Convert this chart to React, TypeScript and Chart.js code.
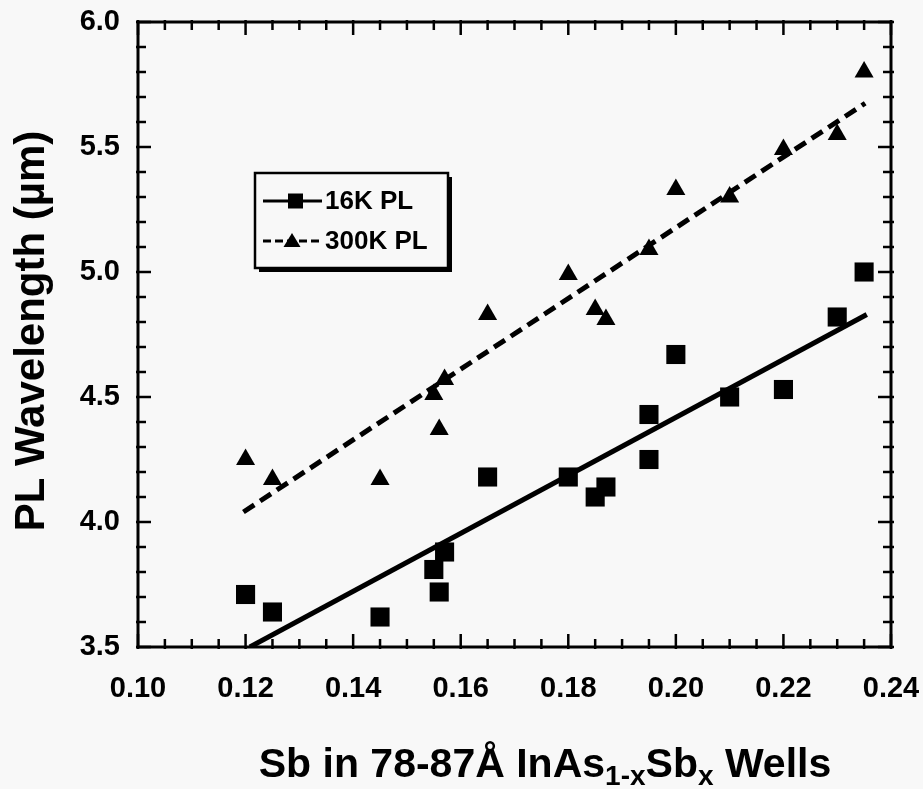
import React, { useEffect, useRef } from 'react';
import { Chart, registerables } from 'chart.js';

Chart.register(...registerables);

// ---- data ----
const seriesNames = ['16K PL', '300K PL'];

const sb16K = [0.120, 0.125, 0.145, 0.155, 0.156, 0.157, 0.165, 0.180, 0.185, 0.187, 0.195, 0.195, 0.200, 0.210, 0.220, 0.230, 0.235];
const pl16K = [3.71, 3.64, 3.62, 3.81, 3.72, 3.88, 4.18, 4.18, 4.10, 4.14, 4.43, 4.25, 4.67, 4.50, 4.53, 4.82, 5.00];

const sb300K = [0.120, 0.125, 0.145, 0.155, 0.156, 0.157, 0.165, 0.180, 0.185, 0.187, 0.195, 0.200, 0.210, 0.220, 0.230, 0.235];
const pl300K = [4.25, 4.17, 4.17, 4.51, 4.37, 4.57, 4.83, 4.99, 4.85, 4.81, 5.09, 5.33, 5.30, 5.49, 5.55, 5.80];

const fitSb16K = [0.1208, 0.2355];
const fitPl16K = [3.50, 4.83];
const fitSb300K = [0.1196, 0.2352];
const fitPl300K = [4.04, 5.675];

const xTickValues = [0.10, 0.12, 0.14, 0.16, 0.18, 0.20, 0.22, 0.24];
const yTickValues = [3.5, 4.0, 4.5, 5.0, 5.5, 6.0];

const xTitleParts = [
  { text: 'Sb in 78-87Å InAs', sub: false },
  { text: '1-x', sub: true },
  { text: 'Sb', sub: false },
  { text: 'x', sub: true },
  { text: ' Wells', sub: false },
];
const yTitle = 'PL Wavelength (µm)';

const FONT = '"Liberation Sans", Arial, Helvetica, sans-serif';
const BG = '#f8f8f8';
const INK = '#000000';

const toPts = (xs: number[], ys: number[]) => xs.map((x, i) => ({ x, y: ys[i] }));

const bgPlugin = {
  id: 'bg',
  beforeDraw(chart: any) {
    const { ctx, width, height } = chart;
    ctx.save();
    ctx.fillStyle = BG;
    ctx.fillRect(0, 0, width, height);
    ctx.restore();
  },
};

const framePlugin = {
  id: 'frame',
  afterDraw(chart: any) {
    const { ctx, chartArea } = chart;
    const { left, right, top, bottom } = chartArea;
    const xs = chart.scales.x;
    const ys = chart.scales.y;
    ctx.save();
    ctx.strokeStyle = INK;
    ctx.lineWidth = 3;
    ctx.strokeRect(left, top, right - left, bottom - top);
    ctx.lineWidth = 2.5;
    const xMin = xTickValues[0];
    const xMax = xTickValues[xTickValues.length - 1];
    const nX = Math.round((xMax - xMin) / 0.005);
    for (let i = 0; i <= nX; i++) {
      const v = xMin + i * 0.005;
      const p = xs.getPixelForValue(v);
      const len = i % 4 === 0 ? 13 : 8;
      ctx.beginPath();
      ctx.moveTo(p, bottom + 2);
      ctx.lineTo(p, bottom - len);
      ctx.moveTo(p, top - 2);
      ctx.lineTo(p, top + len);
      ctx.stroke();
    }
    const yMin = yTickValues[0];
    const yMax = yTickValues[yTickValues.length - 1];
    const nY = Math.round((yMax - yMin) / 0.1);
    for (let i = 0; i <= nY; i++) {
      const v = yMin + i * 0.1;
      const p = ys.getPixelForValue(v);
      const len = i % 5 === 0 ? 13 : 8;
      ctx.beginPath();
      ctx.moveTo(left - 2, p);
      ctx.lineTo(left + len, p);
      ctx.moveTo(right + 3, p);
      ctx.lineTo(right - len, p);
      ctx.stroke();
    }
    ctx.restore();
  },
};

const titlesPlugin = {
  id: 'titles',
  afterDraw(chart: any) {
    const { ctx } = chart;
    ctx.save();
    ctx.fillStyle = INK;
    ctx.textBaseline = 'alphabetic';
    ctx.textAlign = 'left';
    const mainFont = `bold 41px ${FONT}`;
    const subFont = `bold 28px ${FONT}`;
    let total = 0;
    const widths = xTitleParts.map((p) => {
      ctx.font = p.sub ? subFont : mainFont;
      const w = ctx.measureText(p.text).width;
      total += w;
      return w;
    });
    let x = 545 - total / 2;
    const baseline = 777;
    xTitleParts.forEach((p, i) => {
      ctx.font = p.sub ? subFont : mainFont;
      ctx.fillText(p.text, x, p.sub ? baseline + 8 : baseline);
      x += widths[i];
    });
    ctx.translate(44, 331);
    ctx.rotate(-Math.PI / 2);
    ctx.font = `bold 42px ${FONT}`;
    ctx.textAlign = 'center';
    ctx.fillText(yTitle, 0, 0);
    ctx.restore();
  },
};

const legendPlugin = {
  id: 'boxLegend',
  afterDraw(chart: any) {
    const { ctx } = chart;
    const bx = 255, by = 173, bw = 193, bh = 95;
    ctx.save();
    ctx.fillStyle = INK;
    ctx.fillRect(bx + 4, by + 4, bw, bh);
    ctx.fillStyle = BG;
    ctx.fillRect(bx, by, bw, bh);
    ctx.strokeStyle = INK;
    ctx.lineWidth = 2.5;
    ctx.strokeRect(bx, by, bw, bh);
    const rows = [201, 241];
    ctx.font = `bold 26px ${FONT}`;
    ctx.textBaseline = 'middle';
    ctx.textAlign = 'left';
    rows.forEach((ry, i) => {
      ctx.strokeStyle = INK;
      ctx.fillStyle = INK;
      ctx.lineWidth = 3;
      ctx.setLineDash(i === 0 ? [] : [8, 4]);
      ctx.beginPath();
      ctx.moveTo(263, ry);
      ctx.lineTo(322, ry);
      ctx.stroke();
      ctx.setLineDash([]);
      if (i === 0) {
        ctx.fillRect(288, ry - 7.5, 15, 15);
      } else {
        ctx.beginPath();
        ctx.moveTo(292, ry - 8);
        ctx.lineTo(300.5, ry + 6);
        ctx.lineTo(283.5, ry + 6);
        ctx.closePath();
        ctx.fill();
      }
      ctx.fillText(seriesNames[i], 325, ry + 1);
    });
    ctx.restore();
  },
};

const zeroPad = (s: any) => {
  s.paddingTop = 0;
  s.paddingBottom = 0;
  s.paddingLeft = 0;
  s.paddingRight = 0;
};

export default function App() {
  const ref = useRef<HTMLCanvasElement>(null);
  useEffect(() => {
    document.body.style.margin = '0';
    document.body.style.background = BG;
    const canvas = ref.current!;
    const chart = new Chart(canvas, {
      type: 'scatter',
      data: {
        datasets: [
          {
            label: seriesNames[0],
            data: toPts(sb16K, pl16K),
            pointStyle: 'rect',
            pointRadius: 13.5,
            pointBackgroundColor: INK,
            pointBorderWidth: 0,
            showLine: false,
          },
          {
            label: seriesNames[1],
            data: toPts(sb300K, pl300K),
            pointStyle: 'triangle',
            pointRadius: 11,
            pointBackgroundColor: INK,
            pointBorderWidth: 0,
            showLine: false,
          },
          {
            label: 'fit16',
            data: toPts(fitSb16K, fitPl16K),
            showLine: true,
            borderColor: INK,
            borderWidth: 5,
            pointRadius: 0,
          },
          {
            label: 'fit300',
            data: toPts(fitSb300K, fitPl300K),
            showLine: true,
            borderColor: INK,
            borderWidth: 5,
            borderDash: [13, 7],
            pointRadius: 0,
          },
        ],
      },
      options: {
        responsive: false,
        animation: false,
        devicePixelRatio: 1,
        layout: { padding: { top: 22, right: 32, left: 0, bottom: 0 } },
        plugins: {
          legend: { display: false },
          tooltip: { enabled: false },
          title: { display: false },
        },
        scales: {
          x: {
            type: 'linear',
            min: xTickValues[0],
            max: xTickValues[xTickValues.length - 1],
            afterBuildTicks: (s: any) => {
              s.ticks = xTickValues.map((v) => ({ value: v }));
            },
            ticks: {
              callback: (v: any) => Number(v).toFixed(2),
              font: { family: FONT, size: 29, weight: 'bold' },
              color: INK,
              padding: 25,
              maxRotation: 0,
              autoSkip: false,
            },
            grid: { display: false, drawTicks: false, tickLength: 0 },
            border: { display: false },
            afterFit: (s: any) => {
              s.height = 142;
              zeroPad(s);
            },
          },
          y: {
            type: 'linear',
            min: yTickValues[0],
            max: yTickValues[yTickValues.length - 1],
            afterBuildTicks: (s: any) => {
              s.ticks = yTickValues.map((v) => ({ value: v }));
            },
            ticks: {
              callback: (v: any) => Number(v).toFixed(1),
              font: { family: FONT, size: 29, weight: 'bold' },
              color: INK,
              padding: 18,
              autoSkip: false,
            },
            grid: { display: false, drawTicks: false, tickLength: 0 },
            border: { display: false },
            afterFit: (s: any) => {
              s.width = 138;
              zeroPad(s);
            },
          },
        },
      },
      plugins: [bgPlugin, framePlugin, titlesPlugin, legendPlugin],
    } as any);
    return () => chart.destroy();
  }, []);
  return (
    <canvas
      ref={ref}
      width={923}
      height={789}
      style={{ display: 'block', width: 923, height: 789 }}
    />
  );
}
